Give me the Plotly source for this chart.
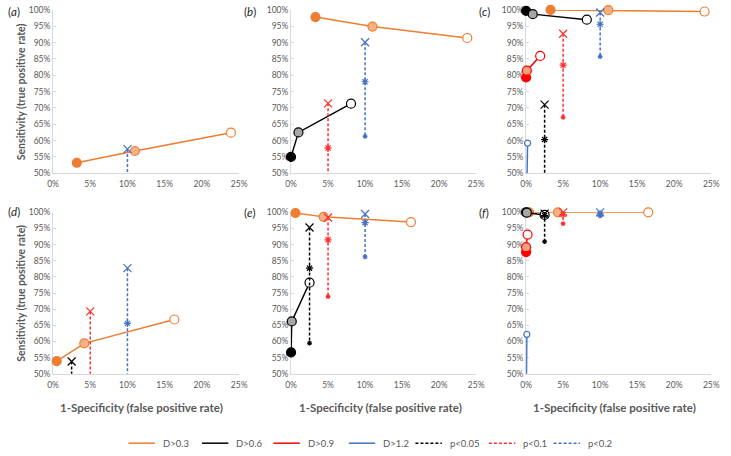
import plotly.graph_objects as go

# ---------------- data ----------------
PANELS = ["a", "b", "c", "d", "e", "f"]

# D>0.3 : three points per panel (filled, mid, open marker)
d03_x = {"a": [0.032, 0.110, 0.239], "b": [0.033, 0.110, 0.238], "c": [0.033, 0.111, 0.241],
         "d": [0.005, 0.042, 0.163], "e": [0.006, 0.044, 0.162], "f": [0.004, 0.043, 0.165]}
d03_y = {"a": [0.532, 0.568, 0.624], "b": [0.978, 0.949, 0.914], "c": [1.000, 0.999, 0.995],
         "d": [0.539, 0.594, 0.668], "e": [0.998, 0.986, 0.970], "f": [1.000, 1.000, 1.000]}

# D>0.6
d06_x = {"b": [0.000, 0.010, 0.081], "c": [0.000, 0.009, 0.082],
         "e": [0.000, 0.001, 0.025], "f": [0.000, 0.001, 0.025]}
d06_y = {"b": [0.550, 0.625, 0.713], "c": [0.997, 0.987, 0.970],
         "e": [0.566, 0.662, 0.782], "f": [1.000, 0.999, 0.992]}

# D>0.9
d09_x = {"c": [0.000, 0.001, 0.019], "f": [0.000, 0.000, 0.002]}
d09_y = {"c": [0.793, 0.814, 0.859], "f": [0.877, 0.892, 0.931]}

# D>1.2 (first two points fall below the visible 50% floor)
d12_x = {"c": [0.000, 0.0005, 0.002], "f": [0.000, 0.000, 0.001]}
d12_y = {"c": [0.350, 0.420, 0.592], "f": [0.350, 0.420, 0.622]}

# p-value threshold lines: x position and three sensitivities (top, mid, bottom)
p_x = {"p<0.05": 0.025, "p<0.1": 0.05, "p<0.2": 0.10}
p005_y = {"c": [0.710, 0.603, 0.450], "d": [0.538, 0.450, 0.350],
          "e": [0.953, 0.827, 0.595], "f": [0.996, 0.990, 0.909]}
p01_y = {"b": [0.714, 0.577, 0.450], "c": [0.927, 0.831, 0.671], "d": [0.693, 0.450, 0.350],
         "e": [0.984, 0.915, 0.739], "f": [1.000, 0.993, 0.965]}
p02_y = {"a": [0.574, 0.450, 0.350], "b": [0.901, 0.780, 0.613], "c": [0.992, 0.956, 0.857],
         "d": [0.827, 0.656, 0.450], "e": [0.995, 0.968, 0.862], "f": [1.000, 0.995, 0.989]}

x_ticks = [0, 0.05, 0.10, 0.15, 0.20, 0.25]
y_ticks = [0.50, 0.55, 0.60, 0.65, 0.70, 0.75, 0.80, 0.85, 0.90, 0.95, 1.00]

# ---------------- styling ----------------
W, H = 731, 456
FONT = "Lato"
GREY = "#595959"
AXIS = "#D9D9D9"
COL_PX = [(48, 238), (291, 480), (531, 720)]
ROW_PX = [(5, 172), (212, 377)]

D_SERIES = [
    ("D>0.3", d03_x, d03_y, "#ED7D31", ["#ED7D31", "#F4B183", "#FFFFFF"], 9),
    ("D>0.6", d06_x, d06_y, "#000000", ["#000000", "#A6A6A6", "#FFFFFF"], 9),
    ("D>0.9", d09_x, d09_y, "#FF0000", ["#FF0000", "#F4A07A", "#FFFFFF"], 9),
    ("D>1.2", d12_x, d12_y, "#4472C4", ["#4472C4", "#9DC3E6", "#FFFFFF"], 6),
]
P_SERIES = [
    ("p<0.05", p005_y, "#000000"),
    ("p<0.1", p01_y, "#FF3030"),
    ("p<0.2", p02_y, "#4472C4"),
]
P_SYMBOLS = ["x-thin-open", "asterisk-open", "asterisk-open"]
P_SIZES = [8, 6, 4]
DASH = "3px,2px"

fig = go.Figure()

for i, p in enumerate(PANELS):
    n = "" if i == 0 else str(i + 1)
    xa, ya = "x" + n, "y" + n
    for name, xs, ys, col, fills, sz in D_SERIES:
        if p not in xs:
            continue
        yv = ys[p]
        vis = [v >= 0.5 for v in yv]
        fig.add_trace(go.Scatter(
            x=xs[p], y=yv, mode="lines+markers", xaxis=xa, yaxis=ya, name=name,
            showlegend=False, cliponaxis=False, line=dict(color=col, width=1.5),
            marker=dict(symbol="circle", size=[sz if v else 0 for v in vis],
                        opacity=[1 if v else 0 for v in vis],
                        color=fills, line=dict(color=col, width=1.2)),
            hoverinfo="skip"))
    for name, ys, col in P_SERIES:
        if p not in ys:
            continue
        yv = ys[p]
        vis = [v >= 0.5 for v in yv]
        fig.add_trace(go.Scatter(
            x=[p_x[name]] * len(yv), y=yv, mode="lines+markers", xaxis=xa, yaxis=ya,
            name=name, showlegend=False, cliponaxis=False,
            line=dict(color=col, width=1.5, dash=DASH),
            marker=dict(symbol=P_SYMBOLS, size=[s if v else 0 for s, v in zip(P_SIZES, vis)],
                        opacity=[1 if v else 0 for v in vis],
                        color=col, line=dict(color=col, width=1.2)),
            hoverinfo="skip"))

    r, c = divmod(i, 3)
    x0, x1 = COL_PX[c]
    y0, y1 = ROW_PX[r]
    fig.layout["xaxis" + n] = dict(
        domain=[x0 / W, x1 / W], anchor=ya, range=[0, 0.25], tickvals=x_ticks,
        tickformat=".0%", showgrid=False, zeroline=False, showline=True, linecolor=AXIS,
        linewidth=1, ticks="", layer="below traces", ticklabelstandoff=3,
        tickfont=dict(family=FONT, size=8.5, color=GREY), fixedrange=True)
    fig.layout["yaxis" + n] = dict(
        domain=[1 - y1 / H, 1 - y0 / H], anchor=xa, range=[0.5, 1.0], tickvals=y_ticks,
        tickformat=".0%", showgrid=False, zeroline=False, showline=True, linecolor=AXIS,
        linewidth=1, ticks="inside", ticklen=3, tickcolor=AXIS, layer="below traces",
        tickfont=dict(family=FONT, size=8.5, color=GREY), fixedrange=True)

ann = []
shapes = []
label_pos = [(0, 7), (241, 7), (481, 7), (0, 211), (241, 212), (481, 212)]
for p, (lx, ly) in zip(PANELS, label_pos):
    ann.append(dict(text="(<i>%s</i>)" % p, x=lx / W, y=1 - ly / H, xref="paper", yref="paper",
                    xanchor="left", yanchor="middle", showarrow=False,
                    font=dict(family=FONT, size=11.5, color="#262626")))
for cy in [(5 + 172) / 2, (212 + 377) / 2]:
    ann.append(dict(text="<b>Sensitivity (true positive rate)</b>", x=15 / W, y=1 - cy / H,
                    xref="paper", yref="paper", textangle=-90, showarrow=False,
                    xanchor="center", yanchor="middle",
                    font=dict(family=FONT, size=10.5, color=GREY)))
for cx in [138, 382, 621]:
    ann.append(dict(text="<b>1-Specificity (false positive rate)</b>", x=cx / W, y=1 - 412 / H,
                    xref="paper", yref="paper", showarrow=False, xanchor="center",
                    yanchor="middle", font=dict(family=FONT, size=11.5, color=GREY)))

# legend (drawn as line samples + labels)
LEG_Y = 448
LEG_START = [125, 200, 273, 350, 418, 493, 559]
leg_items = [(s[0], s[3], "solid") for s in D_SERIES] + [(s[0], s[2], DASH) for s in P_SERIES]
for (name, col, dash), lx in zip(leg_items, LEG_START):
    shapes.append(dict(type="line", xref="paper", yref="paper", x0=lx / W, x1=(lx + 27) / W,
                       y0=1 - LEG_Y / H, y1=1 - LEG_Y / H,
                       line=dict(color=col, width=1.5, dash=dash)))
    ann.append(dict(text=name, x=(lx + 33) / W, y=1 - LEG_Y / H, xref="paper", yref="paper",
                    xanchor="left", yanchor="middle", showarrow=False,
                    font=dict(family=FONT, size=9.5, color=GREY)))

fig.update_layout(
    width=W, height=H, margin=dict(l=0, r=0, t=0, b=0),
    paper_bgcolor="white", plot_bgcolor="white",
    font=dict(family=FONT, color=GREY),
    annotations=ann, shapes=shapes, showlegend=False,
)

fig.write_html("out.html", config={"displayModeBar": False},
               post_script="document.body.style.margin='0';document.body.style.overflow='hidden';")
